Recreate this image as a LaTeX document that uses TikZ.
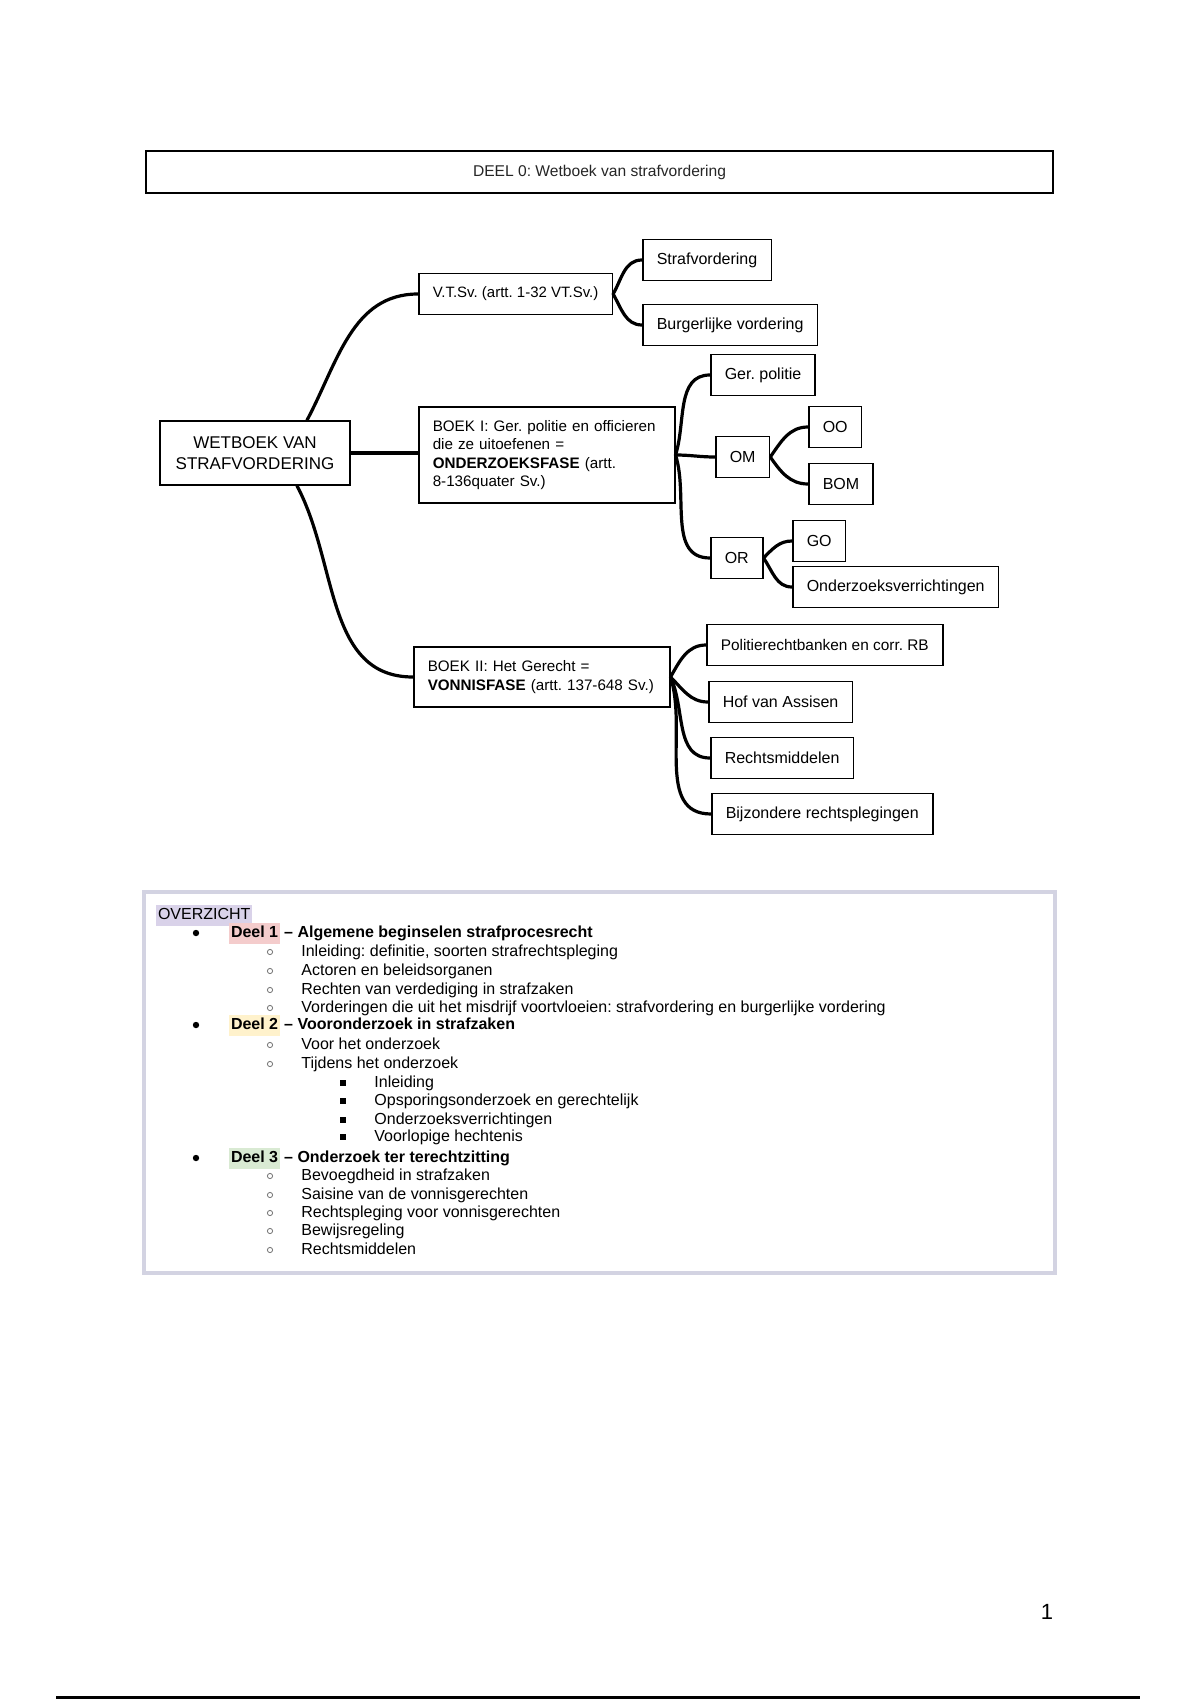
\documentclass[tikz,border=0pt]{standalone}
\usepackage{fontspec}
\setmainfont{Liberation Sans}
\frenchspacing

\definecolor{hlpurple}{HTML}{D9D2E9}
\definecolor{hlred}{HTML}{F4CCCC}
\definecolor{hlyellow}{HTML}{FFF2CC}
\definecolor{hlgreen}{HTML}{D9EAD3}
\definecolor{framegray}{HTML}{D3D3E2}
\definecolor{dotgray}{HTML}{707070}

% highlighted word, as in the overview list
\newcommand{\markit}[2]{{\setlength{\fboxsep}{0.8pt}\colorbox{#1}{\strut #2}}}
% no hyphenation inside the book boxes
\newcommand{\booktext}{\fontsize{7.6}{9.2}\selectfont\hyphenpenalty=10000\relax}

\begin{document}
\begin{tikzpicture}[x=0.5pt, y=-0.5pt,
    box/.style={draw, line width=0.75pt, inner xsep=7pt, minimum height=20.5pt,
                anchor=west, font=\fontsize{8}{9.2}\selectfont},
    bookbox/.style={box, text width=114pt, align=left, font=\booktext},
    link/.style={line width=1.6pt, line cap=round},
    item/.style={anchor=west, inner sep=0pt, text height=6pt, text depth=1.7pt,
                 font=\fontsize{8}{9.25}\selectfont}]

    % 0. Page size (A4 page, 1 px = 0.5pt)
    \fill[white] (0,0) rectangle (1200,1700);
    \useasboundingbox (0,0) rectangle (1200,1700);

    % 1. Title bar
    \node[draw, line width=1pt, minimum width=453.5pt, minimum height=21pt,
          font=\fontsize{7.8}{9}\selectfont, text=black!85] (title) at (599.5,172)
          {DEEL 0: Wetboek van strafvordering};

    % 2. Root of the tree
    \node[draw, line width=0.8pt, minimum width=95pt, minimum height=32pt, align=center,
          font=\fontsize{8.5}{10.3}\selectfont] (wsv) at (255,453)
          {WETBOEK VAN\\STRAFVORDERING};

    % 3. The three parts of the code
    \node[box, font=\fontsize{7.5}{9}\selectfont] (vts) at (418,294) {V.T.Sv. (artt. 1-32 VT.Sv.)};
    \node[bookbox, minimum height=48pt] (boekI) at (418,455)
          {BOEK I: Ger. politie en officieren\\ die ze uitoefenen =\\
           \textbf{ONDERZOEKSFASE} (artt.\\ 8-136quater Sv.)};
    \node[bookbox, minimum height=30pt] (boekII) at (413,677)
          {BOEK II: Het Gerecht =\\ \textbf{VONNISFASE} (artt. 137-648 Sv.)};

    % 4. Leaves
    \node[box] (straf)  at (642,260) {Strafvordering};
    \node[box] (burg)   at (642,325) {Burgerlijke vordering};
    \node[box] (gerpol) at (710,375) {Ger. politie};
    \node[box] (om)     at (715,457) {OM};
    \node[box] (oo)     at (808,427) {OO};
    \node[box] (bom)    at (808,484) {BOM};
    \node[box] (ondr)   at (710,558) {OR};
    \node[box] (go)     at (792,541) {GO};
    \node[box] (ozv)    at (792,587) {Onderzoeksverrichtingen};
    \node[box, font=\fontsize{7.7}{9.2}\selectfont] (prb) at (706,645) {Politierechtbanken en corr. RB};
    \node[box] (hof)    at (708,702) {Hof van Assisen};
    \node[box] (rm)     at (710,758) {Rechtsmiddelen};
    \node[box] (bijz)   at (711,814) {Bijzondere rechtsplegingen};

    % 5. Branches (out angle per child, all end horizontally)
    \draw[link] ([xshift=26pt]wsv.north) to[out=62,in=180] (vts.west);
    \draw[link] (wsv.east) -- (wsv.east -| boekI.west);
    \draw[link] ([xshift=21pt]wsv.south) to[out=-62,in=180] (boekII.west);
    \foreach \kid/\ang in {straf/60,burg/-60}
        \draw[link] (vts.east) to[out=\ang,in=180] (\kid.west);
    \foreach \kid/\ang in {gerpol/72,om/0,ondr/-72}
        \draw[link] (boekI.east) to[out=\ang,in=180] (\kid.west);
    \foreach \kid/\ang in {oo/55,bom/-55}
        \draw[link] (om.east) to[out=\ang,in=180] (\kid.west);
    \foreach \kid/\ang in {go/45,ozv/-55}
        \draw[link] (ondr.east) to[out=\ang,in=180] (\kid.west);
    \foreach \kid/\ang in {prb/60,hof/-45,rm/-65,bijz/-72}
        \draw[link] (boekII.east) to[out=\ang,in=180] (\kid.west);

    % 6. Overview frame
    \draw[framegray, line width=2pt] (144,892) rectangle (1055,1273);
    \node[item] (ovz) at (156,915) {\markit{hlpurple}{OVERZICHT}};

    % level 1
    \node[item] (deelI)   at (229,933)  {\textbf{\markit{hlred}{Deel 1} -- Algemene beginselen strafprocesrecht}};
    \node[item] (deelII)  at (229,1025) {\textbf{\markit{hlyellow}{Deel 2} -- Vooronderzoek in strafzaken}};
    \node[item] (deelIII) at (229,1158) {\textbf{\markit{hlgreen}{Deel 3} -- Onderzoek ter terechtzitting}};
    \foreach \y in {933,1025,1158}
        \fill (196,\y) circle (1.6pt);

    % level 2
    \foreach \y/\txt in {952/{Inleiding: definitie, soorten strafrechtspleging},
                         971/{Actoren en beleidsorganen},
                         990/{Rechten van verdediging in strafzaken},
                         1008/{Vorderingen die uit het misdrijf voortvloeien: strafvordering en burgerlijke vordering},
                         1045/{Voor het onderzoek},
                         1064/{Tijdens het onderzoek},
                         1176/{Bevoegdheid in strafzaken},
                         1195/{Saisine van de vonnisgerechten},
                         1213/{Rechtspleging voor vonnisgerechten},
                         1231/{Bewijsregeling},
                         1250/{Rechtsmiddelen}}{
        \draw[dotgray, line width=0.4pt] (270,\y) circle (1.3pt);
        \node[item] (sub\y) at (301,\y) {\txt};
    }

    % level 3
    \foreach \y/\txt in {1083/{Inleiding},
                         1101/{Opsporingsonderzoek en gerechtelijk},
                         1120/{Onderzoeksverrichtingen},
                         1137/{Voorlopige hechtenis}}{
        \fill (343,\y) ++(-1.3pt,-1.3pt) rectangle ++(2.6pt,2.6pt);
        \node[item] (subsub\y) at (374,\y) {\txt};
    }

    % 7. Page number and footer rule
    \node[font=\fontsize{11}{13}\selectfont] (pagenr) at (1047,1612) {1};
    \draw[line width=1.5pt] (56,1697) -- (1140,1697);

  \end{tikzpicture}
\end{document}
